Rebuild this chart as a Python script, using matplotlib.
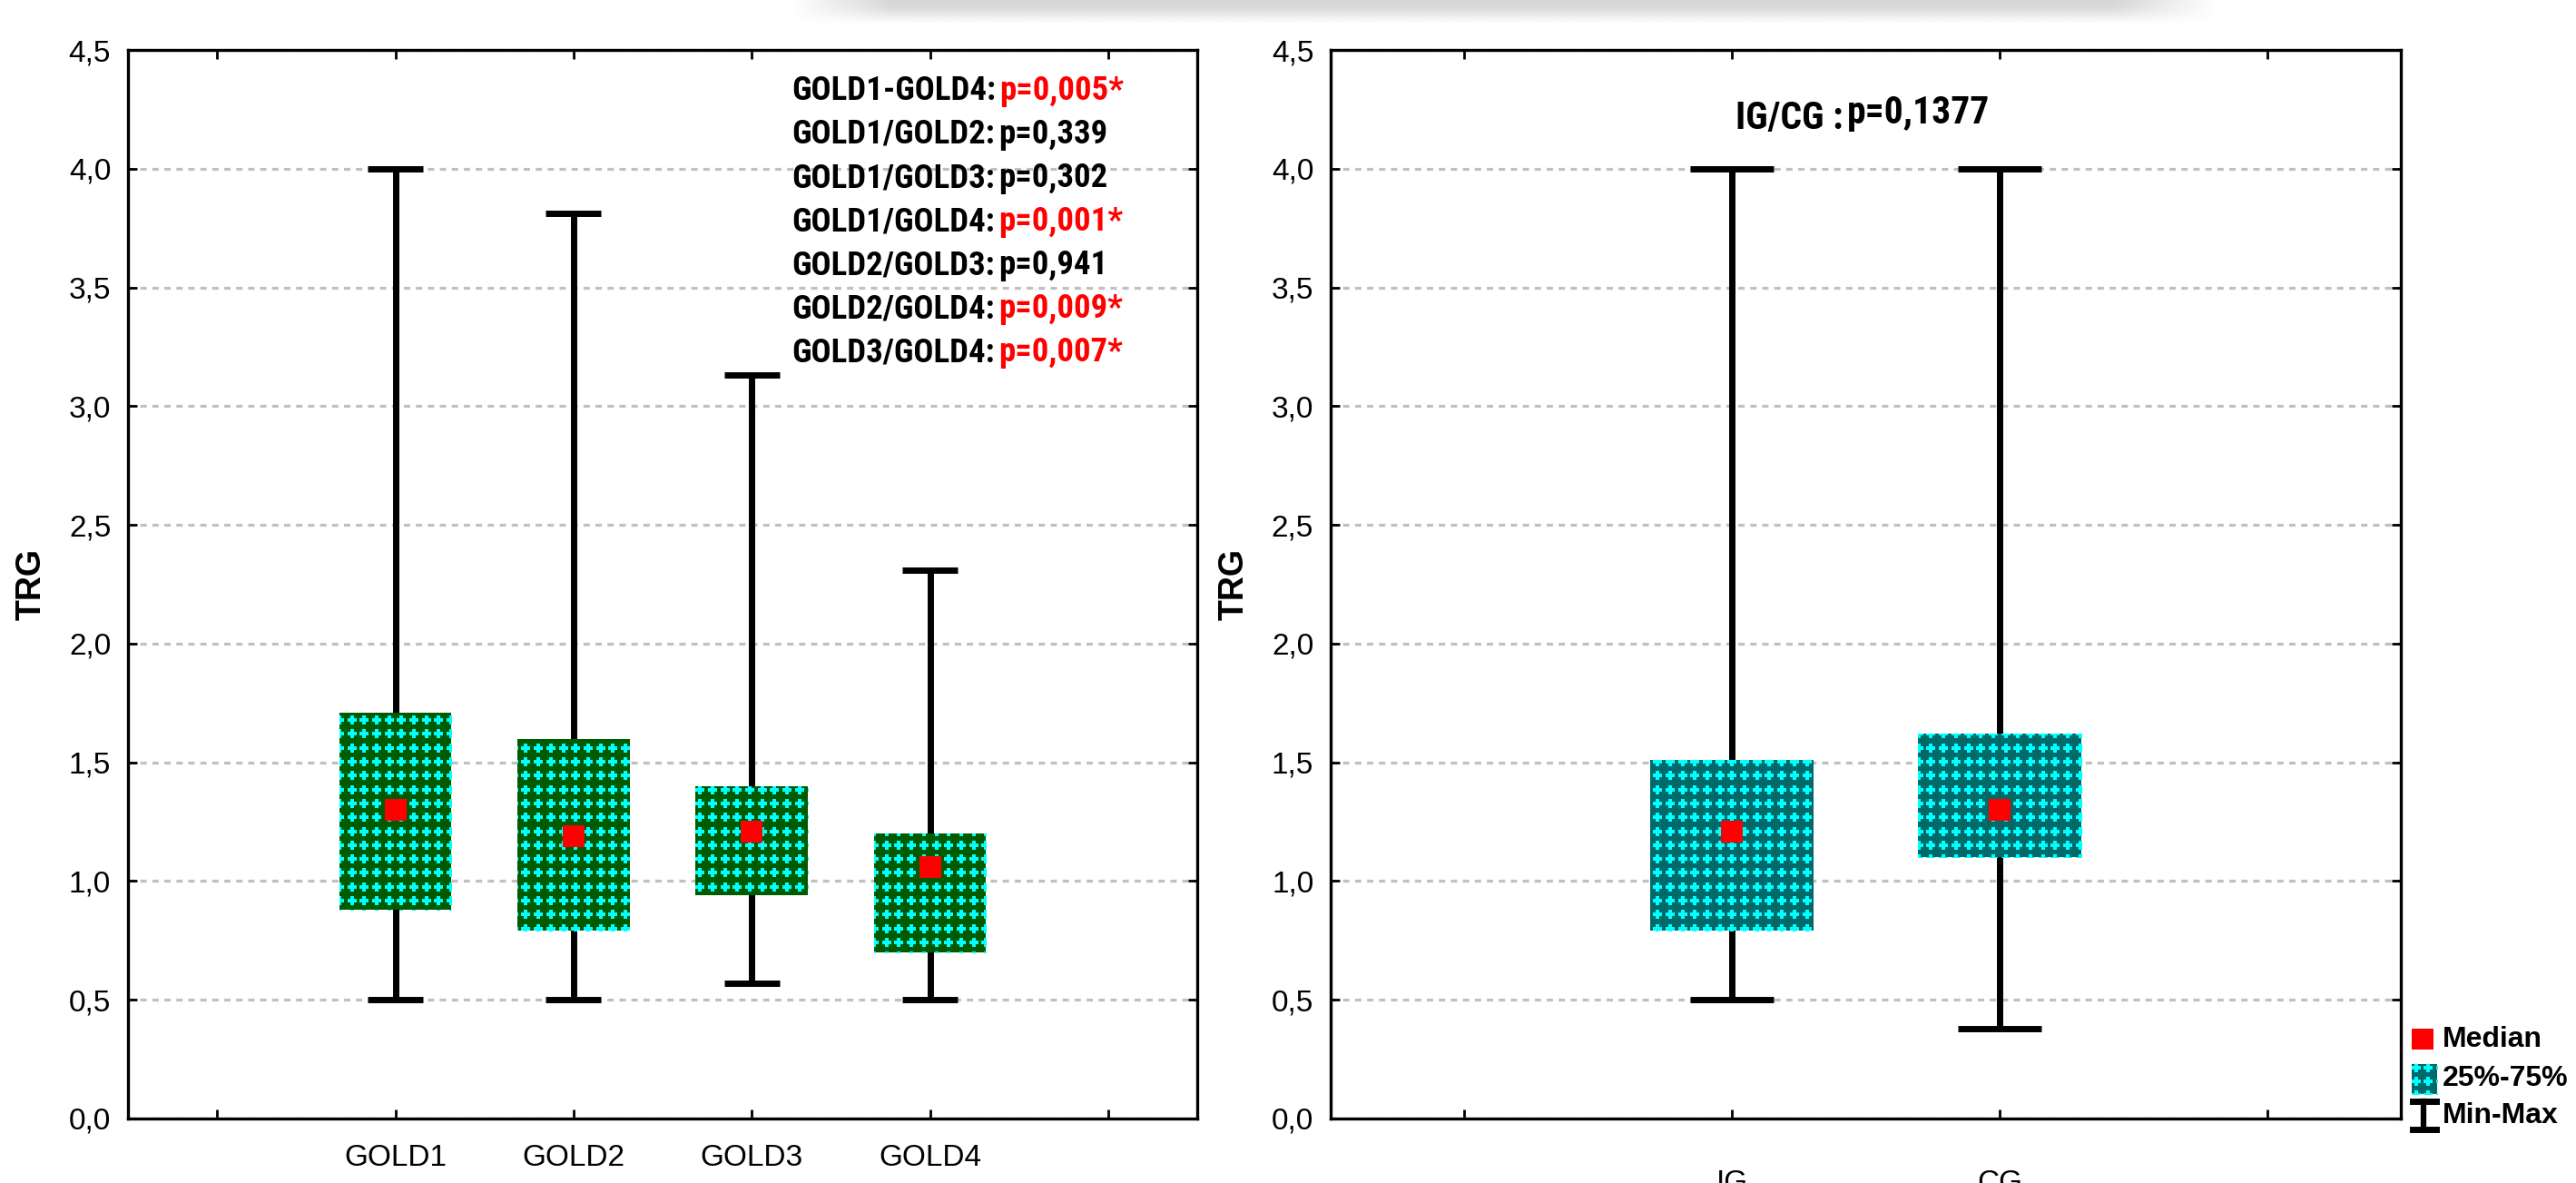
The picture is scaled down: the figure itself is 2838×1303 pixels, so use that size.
import numpy as np
import matplotlib
matplotlib.use("Agg")
import matplotlib.pyplot as plt
from matplotlib.patches import Rectangle
from matplotlib.ticker import FuncFormatter
import logging
logging.getLogger("matplotlib.font_manager").setLevel(logging.ERROR)

plt.rcParams["lines.scale_dashes"] = False

# ── Data ──────────────────────────────────────────────────────────────────
gold_groups = ["GOLD1", "GOLD2", "GOLD3", "GOLD4"]
gold_min    = [0.50, 0.50, 0.57, 0.50]
gold_q1     = [0.88, 0.79, 0.94, 0.70]
gold_median = [1.30, 1.19, 1.21, 1.06]
gold_q3     = [1.71, 1.60, 1.40, 1.20]
gold_max    = [4.00, 3.81, 3.13, 2.31]

gold_tests = ["GOLD1-GOLD4:", "GOLD1/GOLD2:", "GOLD1/GOLD3:", "GOLD1/GOLD4:",
              "GOLD2/GOLD3:", "GOLD2/GOLD4:", "GOLD3/GOLD4:"]
gold_pvals = ["p=0,005*", "p=0,339", "p=0,302", "p=0,001*",
              "p=0,941", "p=0,009*", "p=0,007*"]

igcg_groups = ["IG", "CG"]
igcg_min    = [0.50, 0.38]
igcg_q1     = [0.79, 1.10]
igcg_median = [1.21, 1.30]
igcg_q3     = [1.51, 1.62]
igcg_max    = [4.00, 4.00]
igcg_test   = "IG/CG :"
igcg_pval   = "p=0,1377"

W, H = 2838, 1303
GREEN, TEAL, CYAN = "#005a00", "#006a6a", "#00ffff"
SANS = ["Liberation Sans", "DejaVu Sans"]
NARROW = ["Liberation Sans Narrow", "Arial Narrow", "Roboto Condensed",
          "Open Sans Condensed", "Liberation Sans"]

fig = plt.figure(figsize=(W / 100, H / 100), dpi=100)
ax1 = fig.add_axes([141 / W, 71 / H, 1178 / W, 1177 / H])
ax2 = fig.add_axes([1466 / W, 71 / H, 1179 / W, 1177 / H])

DX, DY = 13.7, 15.3   # pattern pitch in pixels


def add_pattern(ax, rect):
    """cyan plus-sign fill, clipped to the rectangle"""
    x0, y0 = rect.get_xy()
    p0 = ax.transData.transform((x0, y0))
    p1 = ax.transData.transform((x0 + rect.get_width(), y0 + rect.get_height()))
    lo, hi = np.minimum(p0, p1), np.maximum(p0, p1)
    gx = np.arange(np.floor(lo[0] / DX) * DX + 4, hi[0] + DX, DX)
    gy = np.arange(np.floor(lo[1] / DY) * DY + 5, hi[1] + DY, DY)
    GX, GY = np.meshgrid(gx, gy)
    pts = ax.transData.inverted().transform(np.column_stack([GX.ravel(), GY.ravel()]))
    sc = ax.scatter(pts[:, 0], pts[:, 1], marker="P", s=55, color=CYAN,
                    linewidths=0, zorder=rect.get_zorder() + 0.5)
    sc.set_clip_path(rect)


def style_axes(ax, labels, xlim, xpad):
    ax.set_xlim(*xlim)
    ax.set_ylim(0, 4.5)
    ax.set_xticks(range(len(labels)))
    ax.set_xticklabels(labels, fontsize=24, family=SANS)
    ax.set_yticks(np.arange(0, 4.51, 0.5))
    ax.yaxis.set_major_formatter(FuncFormatter(lambda v, p: f"{v:.1f}".replace(".", ",")))
    for t in ax.get_yticklabels():
        t.set_fontsize(24)
        t.set_family(SANS)
    ax.tick_params(axis="both", direction="in", top=True, right=True,
                   length=7, width=2)
    ax.tick_params(axis="x", pad=xpad)
    ax.tick_params(axis="y", pad=13.5)
    for s in ax.spines.values():
        s.set_linewidth(2.4)
    ax.set_axisbelow(True)
    ax.yaxis.grid(True, color="#c0c0c0", lw=2.3, linestyle=(0, (5, 4.5)))
    ax.set_ylabel("TRG", fontsize=27, fontweight="bold", family=SANS)
    ax.yaxis.set_label_coords(-0.075, 0.5)


def draw_boxes(ax, mins, q1s, meds, q3s, maxs, face, box_w, cap_w):
    xs = np.arange(1, len(mins) + 1)
    ax.vlines(xs, mins, maxs, color="black", lw=5, zorder=2)
    ax.hlines(mins, xs - cap_w / 2, xs + cap_w / 2, color="black", lw=5, zorder=2)
    ax.hlines(maxs, xs - cap_w / 2, xs + cap_w / 2, color="black", lw=5, zorder=2)
    for x, lo, hi in zip(xs, q1s, q3s):
        rect = Rectangle((x - box_w / 2, lo), box_w, hi - lo, facecolor=face,
                         edgecolor="none", zorder=3)
        ax.add_patch(rect)
        add_pattern(ax, rect)
    ax.scatter(xs, meds, marker="s", s=300, color="red", linewidths=0, zorder=5)


def label_with_p(ax, x, y, lab, pv, size, pcolor, dy=0):
    t = ax.text(x, y, lab, transform=ax.transAxes, fontsize=size,
                fontweight="bold", family=NARROW, va="center", ha="left")
    ax.annotate(pv, xy=(1, 0.5), xycoords=t, xytext=(3, dy),
                textcoords="offset points", fontsize=size, fontweight="bold",
                family=NARROW, va="center", ha="left", color=pcolor)


# ── Left panel: GOLD stages ───────────────────────────────────────────────
style_axes(ax1, [""] + gold_groups + [""], (-0.5, 5.5), 20)
draw_boxes(ax1, gold_min, gold_q1, gold_median, gold_q3, gold_max,
           GREEN, 0.63, 0.31)
for i, (lab, pv) in enumerate(zip(gold_tests, gold_pvals)):
    label_with_p(ax1, 0.6205, 0.9618 - i * 0.0408, lab, pv, 26.5,
                 "red" if pv.endswith("*") else "black")

# ── Right panel: IG vs CG ─────────────────────────────────────────────────
style_axes(ax2, [""] + igcg_groups + [""], (-0.5, 3.5), 40)
draw_boxes(ax2, igcg_min, igcg_q1, igcg_median, igcg_q3, igcg_max,
           TEAL, 0.61, 0.31)
label_with_p(ax2, 0.378, 0.936, igcg_test, igcg_pval, 30, "black", dy=4)

# ── Overlay in pixel coordinates: legend + blurred strip at top ───────────
ov = fig.add_axes([0, 0, 1, 1])
ov.set_xlim(0, W)
ov.set_ylim(H, 0)
ov.axis("off")
ov.patch.set_alpha(0)

vy = np.cos(np.linspace(0, np.pi / 2, 28)) ** 1.2
hx = np.clip(np.minimum(np.linspace(0, 1, 400), np.linspace(1, 0, 400)) * 14, 0, 1)
band = np.zeros((28, 400, 4))
band[..., :3] = 0.6
band[..., 3] = 0.4 * vy[:, None] * hx[None, :]
ov.imshow(band, extent=(869, 2443, 27, 0), aspect="auto", zorder=1,
          interpolation="bilinear")

ov.add_patch(Rectangle((2657, 1133), 24, 23, facecolor="red", edgecolor="none"))
leg_box = Rectangle((2657, 1172), 28, 33, facecolor=TEAL, edgecolor="none", zorder=2)
ov.add_patch(leg_box)
add_pattern(ov, leg_box)
ov.plot([2658, 2684], [1213, 1213], color="black", lw=5)
ov.plot([2670, 2670], [1213, 1244], color="black", lw=4.5)
ov.plot([2658, 2684], [1244, 1244], color="black", lw=5)
for txt, yy in zip(["Median", "25%-75%", "Min-Max"], [1145, 1188, 1229]):
    ov.text(2691, yy, txt, fontsize=23, fontweight="bold", family=SANS,
            va="center", ha="left")

fig.savefig("out.png", dpi=100)
